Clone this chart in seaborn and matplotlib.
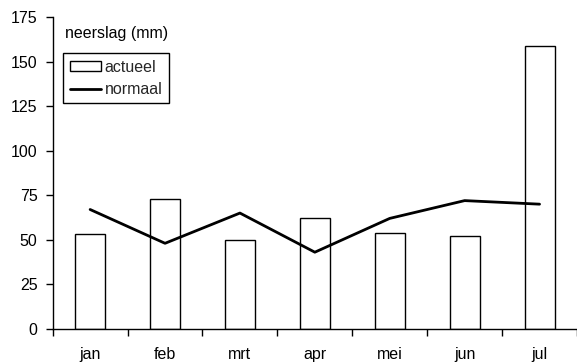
import numpy as np
import pandas as pd
import matplotlib
matplotlib.use("Agg")
import matplotlib.pyplot as plt
import matplotlib.font_manager as fm
import seaborn as sns
from matplotlib.patches import Patch
from matplotlib.lines import Line2D

months = ["jan", "feb", "mrt", "apr", "mei", "jun", "jul"]
actueel = [53, 73, 50, 62, 54, 52, 159]
normaal = [67, 48, 65, 43, 62, 72, 70]
yticks = [0, 25, 50, 75, 100, 125, 150, 175]

# drop narrow variants so "Liberation Sans" resolves to the regular width face
fm.fontManager.ttflist = [f for f in fm.fontManager.ttflist if "Narrow" not in f.fname]

sns.set_theme(style="white")
plt.rcParams["font.family"] = ["Liberation Sans", "DejaVu Sans"]
FS = 11.5

df = pd.DataFrame({"maand": months, "actueel": actueel, "normaal": normaal,
                   "pos": np.arange(len(months))})

fig = plt.figure(figsize=(5.77, 3.62), dpi=100)
ax = fig.add_axes([0.0913, 0.092, 0.9087, 0.860])

sns.barplot(data=df, x="maand", y="actueel", ax=ax, color="white",
            edgecolor="black", linewidth=1.0, width=0.4, saturation=1)
sns.lineplot(data=df, x="pos", y="normaal", ax=ax, color="black", linewidth=2.0)

ax.set_xlim(-0.5, len(months) - 0.5)
ax.set_ylim(0, 175)
ax.set_yticks(yticks)
ax.set_yticklabels([str(v) for v in yticks], fontsize=FS)
ax.set_xticks(np.arange(len(months)))
ax.set_xticklabels(months, fontsize=FS)
ax.set_xticks(np.arange(len(months) + 1) - 0.5, minor=True)
ax.tick_params(axis="x", which="major", length=0, pad=13, colors="black")
ax.tick_params(axis="x", which="minor", length=5, width=1, color="black", direction="out", bottom=True)
ax.tick_params(axis="y", which="major", length=5, width=1, color="black", direction="out",
               pad=6, left=True, labelcolor="black")
ax.set_xlabel("")
ax.set_ylabel("")

for s in ["top", "right"]:
    ax.spines[s].set_visible(False)
for s in ["left", "bottom"]:
    ax.spines[s].set_color("black")
    ax.spines[s].set_linewidth(1.0)

ax.text(0.0236, 0.9325, "neerslag (mm)", transform=ax.transAxes, fontsize=FS,
        ha="left", va="baseline", color="black")

handles = [Patch(facecolor="white", edgecolor="black", linewidth=1.0),
           Line2D([0], [0], color="black", linewidth=2.0)]
leg = ax.legend(handles, ["actueel", "normaal"], loc="upper left",
                bbox_to_anchor=(0.02, 0.884), borderaxespad=0, fontsize=FS,
                frameon=True, fancybox=False, framealpha=1, edgecolor="black",
                handlelength=2.0, handleheight=0.55, handletextpad=0.2,
                borderpad=0.4, labelspacing=0.45)
leg.get_frame().set_linewidth(1.0)

fig.savefig("out.png", dpi=100)
